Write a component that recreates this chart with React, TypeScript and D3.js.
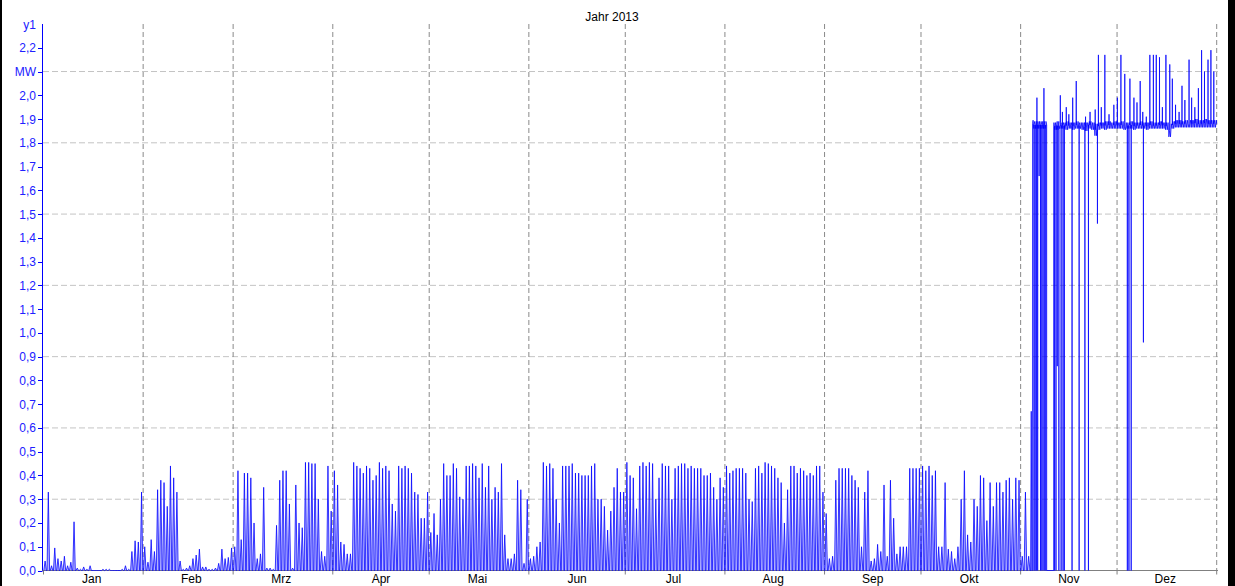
import React from "react";
import * as d3 from "d3";

// ---------- DATA (MW) ----------
const MONTHS = ["Jan", "Feb", "Mrz", "Apr", "Mai", "Jun", "Jul", "Aug", "Sep", "Okt", "Nov", "Dez"];
const Y_TICKS = [0, 0.1, 0.2, 0.3, 0.4, 0.5, 0.6, 0.7, 0.8, 0.9, 1.0, 1.1, 1.2, 1.3, 1.4, 1.5, 1.6, 1.7, 1.8, 1.9, 2.0, 2.1, 2.2];
const Y_GRID = [0.3, 0.6, 0.9, 1.2, 1.5, 1.8, 2.1];
const UNIT_TICK = 2.1;
const TITLE = "Jahr 2013";

// daily peak values, Jan 1 .. Nov 3
const peakJan = [0.04, 0.33, 0.02, 0.095, 0.05, 0.04, 0.06, 0.02, 0.035, 0.205, 0.01, 0.005, 0.015, 0.005, 0.02, 0, 0, 0, 0.005, 0.005, 0.005, 0, 0, 0, 0.005, 0.02, 0.005, 0.08, 0.125, 0.12, 0.33];
const peakFeb = [0.1, 0.035, 0.13, 0.08, 0.34, 0.38, 0.37, 0.27, 0.44, 0.39, 0.33, 0.04, 0.005, 0.01, 0.02, 0.05, 0.065, 0.09, 0.015, 0.015, 0.005, 0.005, 0.01, 0.03, 0.09, 0.05, 0.055, 0.095];
const peakMrz = [0.1, 0.42, 0.13, 0.41, 0.41, 0.39, 0.2, 0.05, 0.07, 0.35, 0.01, 0.01, 0.005, 0.19, 0.38, 0.42, 0.42, 0.28, 0.01, 0.36, 0.2, 0.18, 0.455, 0.455, 0.45, 0.45, 0.3, 0.08, 0.06, 0.44, 0.25];
const peakApr = [0.42, 0.36, 0.12, 0.11, 0.07, 0.07, 0.455, 0.44, 0.43, 0.41, 0.44, 0.43, 0.38, 0.4, 0.455, 0.43, 0.44, 0.42, 0.28, 0.25, 0.44, 0.43, 0.44, 0.43, 0.41, 0.33, 0.32, 0.22, 0.22, 0.33];
const peakMai = [0.16, 0.24, 0.15, 0.3, 0.45, 0.4, 0.4, 0.45, 0.43, 0.31, 0.3, 0.44, 0.44, 0.45, 0.44, 0.39, 0.45, 0.35, 0.44, 0.3, 0.35, 0.33, 0.45, 0.15, 0.05, 0.05, 0.07, 0.38, 0.34, 0.03, 0.3];
const peakJun = [0.05, 0.06, 0.1, 0.12, 0.455, 0.44, 0.45, 0.43, 0.3, 0.2, 0.44, 0.44, 0.44, 0.45, 0.41, 0.41, 0.4, 0.4, 0.4, 0.44, 0.45, 0.3, 0.3, 0.27, 0.17, 0.25, 0.35, 0.43, 0.33, 0.33];
const peakJul = [0.455, 0.4, 0.39, 0.26, 0.44, 0.455, 0.44, 0.455, 0.45, 0.3, 0.39, 0.45, 0.44, 0.44, 0.3, 0.43, 0.44, 0.45, 0.45, 0.43, 0.44, 0.43, 0.43, 0.43, 0.4, 0.4, 0.41, 0.35, 0.3, 0.39, 0.35];
const peakAug = [0.44, 0.41, 0.42, 0.43, 0.43, 0.43, 0.41, 0.3, 0.29, 0.43, 0.44, 0.41, 0.455, 0.45, 0.44, 0.43, 0.39, 0.37, 0.2, 0.34, 0.44, 0.44, 0.41, 0.43, 0.42, 0.4, 0.41, 0.4, 0.44, 0.44, 0.33];
const peakSep = [0.24, 0.05, 0.06, 0.38, 0.43, 0.43, 0.43, 0.43, 0.4, 0.38, 0.35, 0.1, 0.33, 0.42, 0.04, 0.05, 0.11, 0.08, 0.36, 0.06, 0.38, 0.22, 0.07, 0.1, 0.1, 0.1, 0.43, 0.43, 0.43, 0.43];
const peakOkt = [0.44, 0.42, 0.44, 0.4, 0.42, 0.1, 0.1, 0.37, 0.09, 0.08, 0.05, 0.1, 0.3, 0.42, 0.15, 0.12, 0.3, 0.27, 0.4, 0.39, 0.21, 0.37, 0.27, 0.37, 0.37, 0.33, 0.38, 0.39, 0.3, 0.39, 0.38];
const peakNovEarly = [0.06, 0.33, 0.06];

// transition spike before the plant goes to full load (day of year, MW)
const transitionSpike: [number, number] = [307.3, 0.67];
const plateauStartDay = 307.7;
const plateauGap: [number, number] = [312.1, 314.3];

// daily noise band of the full-load plateau, day-of-year 307 .. 364
const plateauLo = [
  1.865, 1.86, 1.86, 1.86, 1.86, 1.86, 1.86, 1.855, 1.855, 1.86, 1.86, 1.855, 1.86, 1.855, 1.86, 1.86, 1.855, 1.85, 1.86, 1.855, 1.83, 1.855, 1.86, 1.855, 1.86, 1.86, 1.86,
  1.86, 1.86, 1.855, 1.86, 1.86, 1.855, 1.86, 1.86, 1.86, 1.855, 1.86, 1.86, 1.86, 1.86, 1.86, 1.855, 1.825, 1.86, 1.865, 1.865, 1.865, 1.865, 1.865, 1.865, 1.865, 1.865, 1.865, 1.865, 1.865, 1.865, 1.865,
];
const plateauHi = [
  1.895, 1.89, 1.89, 1.89, 1.89, 1.89, 1.885, 1.885, 1.89, 1.885, 1.885, 1.89, 1.885, 1.885, 1.89, 1.885, 1.885, 1.885, 1.89, 1.885, 1.88, 1.885, 1.885, 1.89, 1.89, 1.885, 1.89,
  1.885, 1.89, 1.885, 1.885, 1.89, 1.885, 1.885, 1.89, 1.885, 1.885, 1.89, 1.885, 1.885, 1.89, 1.885, 1.885, 1.88, 1.89, 1.895, 1.895, 1.89, 1.895, 1.895, 1.895, 1.9, 1.895, 1.895, 1.9, 1.895, 1.895, 1.895,
];

// upward spikes on the plateau
const spikeDays = [309.07, 311.25, 316.35, 317.0, 318.2, 319.0, 320.2, 321.3, 324.2, 325.6, 327.2, 328.2, 329.1, 330.2, 331.5, 333.0, 334.1, 335.2, 336.4, 338.0, 339.25, 340.2, 341.2, 342.0, 343.1, 344.2, 345.3, 346.2, 347.2, 348.1, 349.2, 350.4, 351.2, 352.2, 353.3, 354.2, 355.1, 356.4, 357.2, 358.2, 359.3, 360.3, 361.2, 362.3, 363.2, 364.1];
const spikeValues = [1.99, 2.03, 2.0, 1.93, 1.95, 1.92, 1.99, 2.06, 1.91, 1.93, 1.94, 2.17, 1.95, 2.17, 1.92, 1.96, 1.99, 2.17, 2.09, 2.07, 1.99, 1.97, 2.06, 1.93, 1.91, 2.17, 2.17, 2.17, 2.16, 1.95, 2.17, 2.13, 2.07, 1.96, 1.93, 2.04, 1.98, 2.15, 1.99, 1.95, 2.03, 2.19, 2.1, 2.15, 2.19, 2.1];

// drops from the plateau
const dropDays = [308.15, 308.5, 308.9, 309.3, 309.75, 310.2, 310.6, 311.0, 311.5, 311.85, 314.5, 315.0, 315.4, 315.9, 316.6, 317.2, 317.6, 320.0, 322.2, 324.0, 325.1, 327.9, 337.2, 337.7, 338.4, 342.2];
const dropValues = [0, 0, 0, 0, 1.66, 0, 0, 0, 0, 0, 0, 0, 0.86, 0, 0, 0, 0, 0, 0, 0, 0, 1.46, 0, 0, 0, 0.96];

// ---------- LAYOUT ----------
const W = 1235;
const H = 586;
const X0 = 43.5;
const X1 = 1216.7;
const Y_BASE = 570.5;
const Y_TOP = 24;
const FONT = "Arial, 'Liberation Sans', sans-serif";
const BLUE = "#0000ff";

const DAY_MS = 86400000;
const START = Date.UTC(2013, 0, 1);
const END = Date.UTC(2014, 0, 1);
const dayToDate = (t: number) => new Date(START + t * DAY_MS);

export default function App() {
  const x = d3.scaleUtc().domain([new Date(START), new Date(END)]).range([X0, X1]);
  const y = d3.scaleLinear().domain([0, 2.3]).range([Y_BASE, Y_TOP]);

  // spike season (Jan .. Nov 3)
  const spikePts: [number, number][] = [];
  let doy = 0;
  for (const arr of [peakJan, peakFeb, peakMrz, peakApr, peakMai, peakJun, peakJul, peakAug, peakSep, peakOkt, peakNovEarly]) {
    for (const p of arr) {
      spikePts.push([doy + 0.1, 0], [doy + 0.5, p], [doy + 0.9, 0]);
      doy++;
    }
  }
  spikePts.push([transitionSpike[0] - 0.2, 0], transitionSpike, [transitionSpike[0] + 0.2, 0], [plateauStartDay - 0.02, 0]);

  // plateau season
  const plat: [number, number][] = [[plateauStartDay - 0.02, 0]];
  plateauLo.forEach((lo, i) => {
    const hi = plateauHi[i];
    const day = 307 + i;
    for (let k = 0; k < 4; k++) {
      const t = day + 0.125 + k * 0.25;
      if (t < plateauStartDay) continue;
      if (t > plateauGap[0] && t < plateauGap[1]) continue;
      plat.push([t, k % 2 === 0 ? lo : hi]);
    }
  });
  const levelAt = (t: number) => {
    const i = Math.max(0, Math.min(plateauLo.length - 1, Math.floor(t) - 307));
    return (plateauLo[i] + plateauHi[i]) / 2;
  };
  plat.push([plateauStartDay, levelAt(plateauStartDay)]);
  plat.push([plateauGap[0], levelAt(plateauGap[0])], [plateauGap[0] + 0.01, 0], [plateauGap[1] - 0.01, 0], [plateauGap[1], levelAt(plateauGap[1])]);
  spikeDays.forEach((t, i) => {
    plat.push([t - 0.03, levelAt(t)], [t, spikeValues[i]], [t + 0.03, levelAt(t)]);
  });
  dropDays.forEach((t, i) => {
    plat.push([t - 0.02, levelAt(t)], [t, dropValues[i]], [t + 0.02, levelAt(t)]);
  });
  plat.push([365, levelAt(364)]);
  plat.sort((a, b) => a[0] - b[0]);

  const line = d3
    .line<[number, number]>()
    .x((d) => x(dayToDate(d[0])))
    .y((d) => y(d[1]));
  const area = d3
    .area<[number, number]>()
    .x((d) => x(dayToDate(d[0])))
    .y0(Y_BASE)
    .y1((d) => y(d[1]));

  const monthStarts = d3.utcMonth.range(new Date(START), new Date(END + 1));
  const fmt = (v: number) => v.toFixed(1).replace(".", ",");

  return (
    <svg width={W} height={H} style={{ position: "absolute", left: 0, top: 0, background: "#fff" }} fontFamily={FONT}>
      <rect x={0} y={0} width={W} height={H} fill="#fff" />
      {/* horizontal grid */}
      {Y_GRID.map((v) => (
        <line key={"hg" + v} x1={43} x2={1218} y1={y(v)} y2={y(v)} stroke="#c4c4c4" strokeDasharray="6,3" strokeWidth={1} />
      ))}
      {/* vertical grid at month boundaries */}
      {monthStarts.slice(1).map((m) => (
        <line key={"vg" + m.getTime()} x1={x(m)} x2={x(m)} y1={Y_TOP} y2={Y_BASE} stroke="#8a8a8a" strokeDasharray="5,3" strokeWidth={1} />
      ))}
      {/* x axis */}
      <line x1={42} x2={1218} y1={Y_BASE} y2={Y_BASE} stroke="#808080" strokeWidth={1} />
      {monthStarts.map((m) => (
        <line key={"xt" + m.getTime()} x1={x(m)} x2={x(m)} y1={Y_BASE} y2={Y_BASE + 4} stroke="#808080" strokeWidth={1} />
      ))}
      {MONTHS.map((name, i) => (
        <text key={name} x={x(new Date(Date.UTC(2013, i, 16)))} y={583} textAnchor="middle" fontSize={12} fill="#000">
          {name}
        </text>
      ))}
      {/* data */}
      <path d={area(spikePts) || ""} fill="rgba(0,0,255,0.3)" stroke="none" />
      <path d={line(spikePts) || ""} fill="none" stroke={BLUE} strokeWidth={0.9} strokeOpacity={0.85} />
      <path d={line(plat) || ""} fill="none" stroke={BLUE} strokeWidth={0.9} strokeOpacity={0.85} />
      {/* y axis */}
      <line x1={42.5} x2={42.5} y1={Y_TOP} y2={Y_BASE} stroke={BLUE} strokeWidth={1} />
      {Y_TICKS.map((v) => (
        <g key={"yt" + v}>
          <line x1={38} x2={42.5} y1={Math.round(y(v)) + 0.5} y2={Math.round(y(v)) + 0.5} stroke={BLUE} strokeWidth={1} />
          <text x={36} y={y(v) + 4.5} textAnchor="end" fontSize={12} fill="#2020ff">
            {Math.abs(v - UNIT_TICK) < 1e-9 ? "MW" : fmt(v)}
          </text>
        </g>
      ))}
      <text x={36} y={Y_TOP + 5} textAnchor="end" fontSize={12} fill="#2020ff">
        y1
      </text>
      {/* title */}
      <text x={612} y={21} textAnchor="middle" fontSize={12} fill="#000">
        {TITLE}
      </text>
      {/* frame borders */}
      <rect x={0} y={0} width={2} height={H} fill="#000" />
      <rect x={1228} y={0} width={7} height={H} fill="#000" />
    </svg>
  );
}
